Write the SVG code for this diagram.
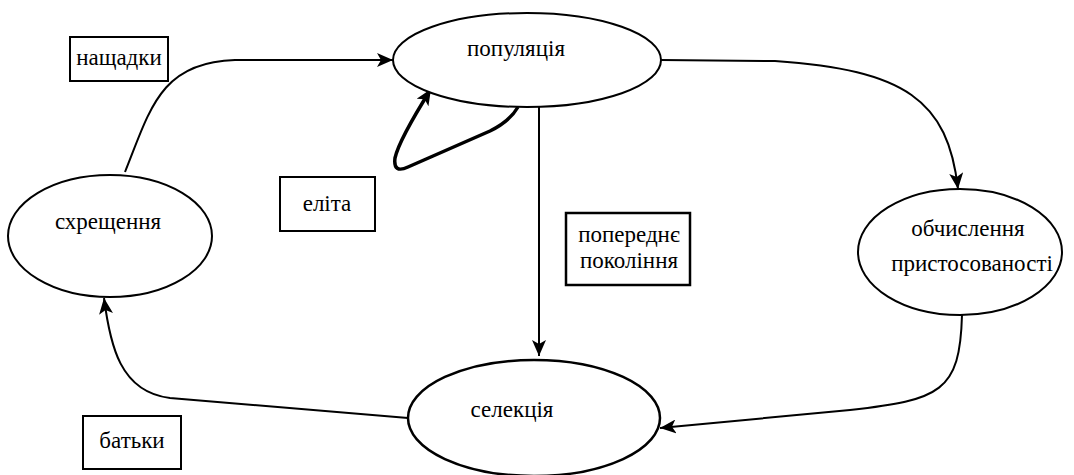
<svg xmlns="http://www.w3.org/2000/svg" width="1074" height="475" viewBox="0 0 1074 475" font-family="'Liberation Serif', 'DejaVu Serif', serif" font-size="23" text-anchor="middle">
<style>
.node{fill:#fff;stroke:#000;stroke-width:2}
.box{fill:#fff;stroke:#000;stroke-width:2}
.c{fill:none;stroke:#000;stroke-width:2}
</style>
<defs>
<marker id="ah" markerUnits="userSpaceOnUse" markerWidth="18" markerHeight="14" refX="16" refY="7" orient="auto" viewBox="0 0 18 14">
<path d="M0,0 L16,7 L0,14 L4,7 z" fill="#000"/>
</marker>
</defs>
<rect width="1074" height="475" fill="#fff"/>
<g id="connectors">
<path class="c" d="M125,172 C150,110 160,62 235,60 L393,60" marker-end="url(#ah)"/>
<path class="c" style="stroke-width:3.5" d="M518,107 Q510,121 490,131 L408,167 Q393,174 395,158 Q399,140 431,89" marker-end="url(#ah)"/>
<path class="c" d="M661,60 L775,61 C905,70 948,100 958,189" marker-end="url(#ah)"/>
<path class="c" d="M539,107 L539,356" marker-end="url(#ah)"/>
<path class="c" d="M962,315 C960,392 940,400 850,410 L660,428" marker-end="url(#ah)"/>
<path class="c" d="M408,418 L170,398 C120,392 110,345 104,298" marker-end="url(#ah)"/>
</g>
<g id="population"><ellipse class="node" cx="527" cy="60" rx="134" ry="47"/><text x="516" y="56">популяція</text></g>
<g id="crossover"><ellipse class="node" cx="110" cy="236" rx="102" ry="61"/><text x="108" y="229">схрещення</text></g>
<g id="fitness"><ellipse class="node" cx="960" cy="252" rx="102" ry="63"/><text x="968" y="236">обчислення</text><text x="972" y="271">пристосованості</text></g>
<g id="selection"><ellipse class="node" style="stroke-width:2.5" cx="534" cy="418" rx="126" ry="58"/><text x="512" y="417">селекція</text></g>
<g id="label-offspring"><rect class="box" x="70" y="37" width="98" height="44"/><text x="119" y="65">нащадки</text></g>
<g id="label-elite"><rect class="box" x="280" y="177" width="95" height="54"/><text x="327" y="211">еліта</text></g>
<g id="label-prev"><rect class="box" style="stroke-width:2.5" x="566" y="213" width="124" height="72"/><text x="629" y="242">попереднє</text><text x="629" y="268">покоління</text></g>
<g id="label-parents"><rect class="box" x="83" y="416" width="98" height="53"/><text x="132" y="448">батьки</text></g>
</svg>
